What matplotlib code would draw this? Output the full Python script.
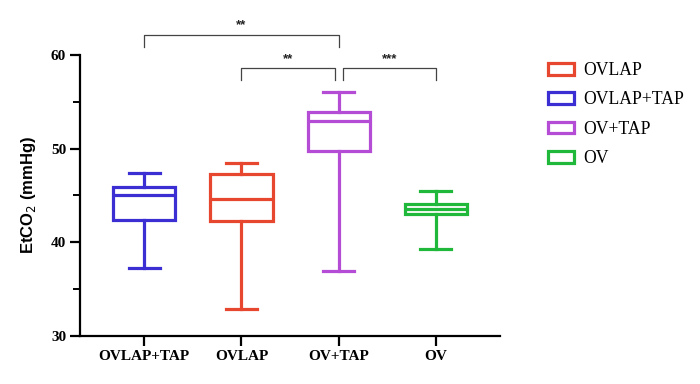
import matplotlib
matplotlib.use("Agg")
import matplotlib.pyplot as plt
from matplotlib.patches import Patch

# Data
groups = ["OVLAP+TAP", "OVLAP", "OV+TAP", "OV"]
whisker_low = [37.2, 32.9, 36.9, 39.3]
q1 = [42.4, 42.3, 49.7, 43.0]
median = [45.05, 44.6, 52.9, 43.5]
q3 = [45.9, 47.3, 53.9, 44.1]
whisker_high = [47.4, 48.5, 56.0, 45.5]
colors = ["#3B2FD4", "#E8472F", "#B54CD6", "#20B83A"]

legend_labels = ["OVLAP", "OVLAP+TAP", "OV+TAP", "OV"]
legend_colors = ["#E8472F", "#3B2FD4", "#B54CD6", "#20B83A"]

# significance brackets: (start index, end index, label)
sig_pairs = [(0, 2, "**"), (1, 2, "**"), (2, 3, "***")]

serif = ["Liberation Serif", "DejaVu Serif"]
sans = ["Liberation Sans", "DejaVu Sans"]

fig = plt.figure(figsize=(7, 3.84), dpi=100)
ax = fig.add_axes([80/700, 1-335.7/384, 420/700, (335.7-55)/384])

stats = []
for i, g in enumerate(groups):
    stats.append(dict(label=g, whislo=whisker_low[i], q1=q1[i], med=median[i],
                      q3=q3[i], whishi=whisker_high[i], fliers=[]))

positions = list(range(len(groups)))
for i, st in enumerate(stats):
    c = colors[i]
    ax.bxp([st], positions=[positions[i]], widths=0.64, showfliers=False,
           patch_artist=True,
           boxprops=dict(facecolor="white", edgecolor=c, linewidth=2.3),
           medianprops=dict(color=c, linewidth=2.3),
           whiskerprops=dict(color=c, linewidth=2.3),
           capprops=dict(color=c, linewidth=2.3),
           capwidths=0.32)

ax.set_xlim(-0.66, 3.66)
ax.set_ylim(30, 60)
ax.set_yticks([30, 40, 50, 60])
ax.set_yticks([35, 45, 55], minor=True)
ax.set_xticks(positions)
ax.set_xticklabels(groups)

for lab in ax.get_xticklabels() + ax.get_yticklabels():
    lab.set_fontfamily(serif)
    lab.set_fontweight("bold")
    lab.set_fontsize(11)

ax.spines["top"].set_visible(False)
ax.spines["right"].set_visible(False)
ax.spines["left"].set_linewidth(1.6)
ax.spines["bottom"].set_linewidth(1.6)
ax.tick_params(axis="both", which="major", length=7, width=1.6, pad=3)
ax.tick_params(axis="y", which="minor", length=5, width=1.4)

ax.set_ylabel("EtCO$_2$ (mmHg)", fontfamily=sans, fontweight="bold", fontsize=12, labelpad=9)

# significance brackets
levels = {(0, 2): (62.15, 60.85), (1, 2): (58.57, 57.3), (2, 3): (58.57, 57.3)}
offsets = {(0, 2): (0, 0), (1, 2): (0, -0.04), (2, 3): (0.04, 0)}
for a, b, txt in sig_pairs:
    top, bot = levels[(a, b)]
    oa, ob = offsets[(a, b)]
    xa, xb = a + oa, b + ob
    ax.plot([xa, xa, xb, xb], [bot, top, top, bot], color="#444444",
            linewidth=0.9, clip_on=False)
    ax.text((xa + xb) / 2, top + 0.35, txt, ha="center", va="bottom",
            fontsize=9.5, fontweight="bold", color="#222222", clip_on=False,
            fontfamily=sans)

handles = [Patch(facecolor="white", edgecolor=c, linewidth=2.3) for c in legend_colors]
leg = fig.legend(handles, legend_labels, loc="upper left",
                 bbox_to_anchor=(548/700, 1-62/384), frameon=False,
                 prop=dict(family=serif, size=12.7),
                 handlelength=1.45, handleheight=0.65, labelspacing=0.7,
                 handletextpad=0.55, borderaxespad=0, borderpad=0)

fig.savefig("out.png", dpi=100)
